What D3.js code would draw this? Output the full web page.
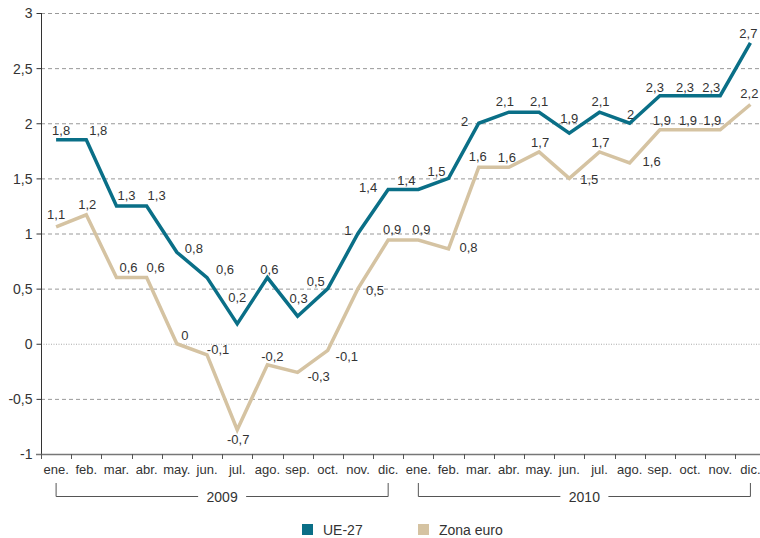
<!DOCTYPE html>
<html>
<head>
<meta charset="utf-8">
<script src="https://cdn.jsdelivr.net/npm/d3@7"></script>
<style>
  body { margin: 0; background: #fff; }
  svg { display: block; font-family: "Liberation Sans", Arial, sans-serif; }
  .axis-label { fill: #333; }
</style>
</head>
<body>
<div id="chart"></div>
<script>
// Month labels for both years
const months = ["ene.", "feb.", "mar.", "abr.", "may.", "jun.", "jul.", "ago.", "sep.", "oct.", "nov.", "dic."];
const years = ["2009", "2010"];
const yTicks = [-1, -0.5, 0, 0.5, 1, 1.5, 2, 2.5, 3];

// Plotted values and the printed labels
const ue27 = [1.85, 1.85, 1.25, 1.25, 0.83, 0.6, 0.18, 0.6, 0.25, 0.5, 1.0, 1.4,
              1.4, 1.5, 2.0, 2.1, 2.1, 1.91, 2.1, 2.0, 2.25, 2.25, 2.25, 2.73];
const ue27Labels = ["1,8", "1,8", "1,3", "1,3", "0,8", "0,6", "0,2", "0,6", "0,3", "0,5", "1", "1,4",
                    "1,4", "1,5", "2", "2,1", "2,1", "1,9", "2,1", "2", "2,3", "2,3", "2,3", "2,7"];
const zonaEuro = [1.06, 1.17, 0.6, 0.6, 0.0, -0.1, -0.78, -0.19, -0.26, -0.06, 0.5, 0.94,
                  0.94, 0.86, 1.6, 1.6, 1.74, 1.5, 1.74, 1.64, 1.94, 1.94, 1.94, 2.17];
const zonaLabels = ["1,1", "1,2", "0,6", "0,6", "0", "-0,1", "-0,7", "-0,2", "-0,3", "-0,1", "0,5", "0,9",
                    "0,9", "0,8", "1,6", "1,6", "1,7", "1,5", "1,7", "1,6", "1,9", "1,9", "1,9", "2,2"];

// Label offsets from each point: [dx, dy of text centre]
const ue27Offsets = [[5, -9], [12, -9], [10, -10], [10, -10], [17, -4], [18, -8], [0, -26], [2, -8],
                     [1, -18], [-12, -7], [-10, -3], [-20, -2], [-12, -9], [-12, -7], [-14, -2], [-4, -11],
                     [0, -11], [0, -15], [1, -11], [1, -9], [-5, -8], [-5, -8], [-9, -8], [-2, -9]];
const zonaOffsets = [[0, -12], [1, -10], [12, -10], [9, -10], [8, -8], [11, -5], [1, 10], [5, -8],
                     [21, 4], [19, 6], [17, 2], [4, -11], [3, -11], [20, -1], [-1, -11], [-2, -10],
                     [1, -9], [20, 1], [1, -9], [22, -1], [2, -9], [-2, -9], [-8, -9], [-1, -11]];

const colors = { ue: "#0a6f87", zona: "#d5c3a2" };

function drawChart() {
    const width = 760;
    const height = 538;
    const left = 41, right = 765.5, top = 13, bottom = 454;

    const svg = d3.select("#chart")
        .append("svg")
        .attr("width", width)
        .attr("height", height);

    const idx = d3.range(years.length * months.length);

    const xScale = d3.scaleBand()
        .domain(idx)
        .range([left, right]);
    const cx = (i) => xScale(i) + xScale.bandwidth() / 2;

    const yScale = d3.scaleLinear()
        .domain([-1, 3])
        .range([bottom, top]);

    // Gridlines
    svg.append("g")
        .selectAll("line")
        .data(yTicks.filter((d) => d !== -1))
        .join("line")
        .attr("x1", left)
        .attr("x2", width)
        .attr("y1", (d) => yScale(d) + 0.5)
        .attr("y2", (d) => yScale(d) + 0.5)
        .attr("stroke", (d) => d === 0 ? "#aaa" : "#999")
        .attr("stroke-width", 1)
        .attr("stroke-dasharray", (d) => d === 0 ? "1,1.5" : "4,3");

    // Y axis
    const yAxis = svg.append("g")
        .attr("transform", `translate(${left + 0.5},0)`)
        .call(d3.axisLeft(yScale)
            .tickValues(yTicks)
            .tickSize(5)
            .tickPadding(4)
            .tickFormat((d) => String(d).replace(".", ",")));
    yAxis.select(".domain").attr("stroke", "#333").attr("d", `M0,${top}V${bottom}`);
    yAxis.selectAll(".tick line").attr("stroke", "#333");
    yAxis.selectAll("text")
        .attr("fill", "#333")
        .style("font-size", "14px")
        .attr("dy", "0.35em");

    // X axis: ticks at band boundaries, labels at centres
    const xg = svg.append("g");
    xg.append("line")
        .attr("x1", 36)
        .attr("x2", width)
        .attr("y1", bottom + 0.5)
        .attr("y2", bottom + 0.5)
        .attr("stroke", "#777")
        .attr("stroke-width", 1.5);
    xg.selectAll(".xtick")
        .data(idx)
        .join("line")
        .attr("class", "xtick")
        .attr("x1", (i) => Math.round(xScale(i)) + 0.5)
        .attr("x2", (i) => Math.round(xScale(i)) + 0.5)
        .attr("y1", bottom)
        .attr("y2", bottom + 5)
        .attr("stroke", "#555");
    xg.selectAll(".xlabel")
        .data(idx)
        .join("text")
        .attr("class", "xlabel")
        .attr("x", (i) => cx(i))
        .attr("y", 474)
        .attr("text-anchor", "middle")
        .attr("fill", "#333")
        .style("font-size", "13px")
        .text((i) => months[i % 12]);

    // Year brackets
    years.forEach((yr, k) => {
        const x0 = cx(k * 12), x1 = cx(k * 12 + 11);
        const mid = (x0 + x1) / 2;
        const g = svg.append("g").attr("stroke", "#555").attr("fill", "none");
        g.append("path").attr("d", `M${x0},483V496.5H${mid - 24}`);
        g.append("path").attr("d", `M${x1},483V496.5H${mid + 24}`);
        svg.append("text")
            .attr("x", mid)
            .attr("y", 502)
            .attr("text-anchor", "middle")
            .attr("fill", "#333")
            .style("font-size", "14px")
            .text(yr);
    });

    // Lines
    const line = d3.line()
        .x((d, i) => cx(i))
        .y((d) => yScale(d));

    const series = [
        { values: zonaEuro, labels: zonaLabels, offsets: zonaOffsets, color: colors.zona },
        { values: ue27, labels: ue27Labels, offsets: ue27Offsets, color: colors.ue },
    ];

    series.forEach((s) => {
        svg.append("path")
            .datum(s.values)
            .attr("fill", "none")
            .attr("stroke", s.color)
            .attr("stroke-width", 3.5)
            .attr("stroke-linejoin", "miter")
            .attr("d", line);
    });

    // Data labels
    series.forEach((s) => {
        svg.append("g")
            .selectAll("text")
            .data(s.values)
            .join("text")
            .attr("x", (d, i) => cx(i) + s.offsets[i][0])
            .attr("y", (d, i) => yScale(d) + s.offsets[i][1])
            .attr("dy", "0.35em")
            .attr("text-anchor", "middle")
            .attr("fill", "#333")
            .style("font-size", "13px")
            .text((d, i) => s.labels[i]);
    });

    // Legend
    const legendItems = [
        { name: "UE-27", color: colors.ue, x: 302 },
        { name: "Zona euro", color: colors.zona, x: 418 },
    ];
    const legend = svg.append("g")
        .selectAll("g")
        .data(legendItems)
        .join("g")
        .attr("transform", (d) => `translate(${d.x},524)`);
    legend.append("rect")
        .attr("width", 11)
        .attr("height", 11)
        .attr("fill", (d) => d.color);
    legend.append("text")
        .attr("x", 21)
        .attr("y", 11)
        .attr("fill", "#333")
        .style("font-size", "14px")
        .text((d) => d.name);
}

drawChart();
</script>
</body>
</html>
